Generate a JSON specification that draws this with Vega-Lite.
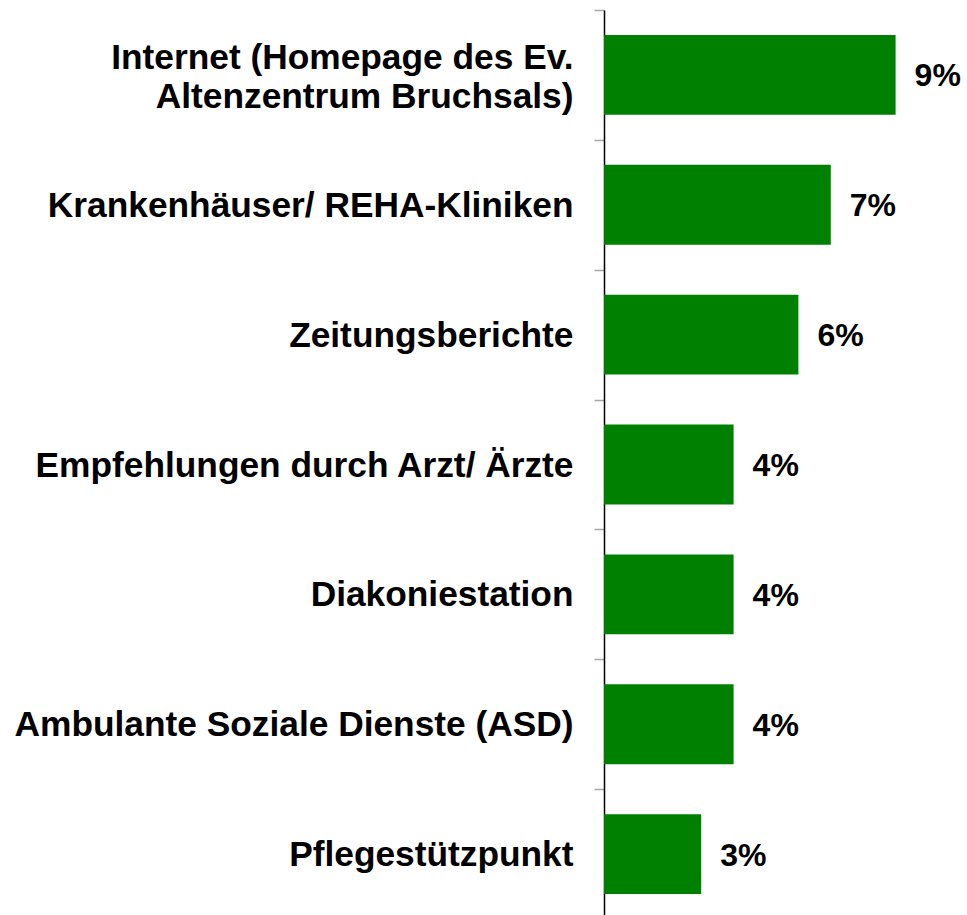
{
  "$schema": "https://vega.github.io/schema/vega-lite/v6.json",
  "autosize": {"type": "none"},
  "padding": {"left": 604, "top": 10, "right": 39, "bottom": 0},
  "width": 324,
  "height": 909,
  "background": "white",
  "config": {"view": {"stroke": null}, "font": "Liberation Sans"},
  "data": {
    "values": [
      {"source": "Internet (Homepage des Ev.\nAltenzentrum Bruchsals)", "share": 0.09},
      {"source": "Krankenhäuser/ REHA-Kliniken", "share": 0.07},
      {"source": "Zeitungsberichte", "share": 0.06},
      {"source": "Empfehlungen durch Arzt/ Ärzte", "share": 0.04},
      {"source": "Diakoniestation", "share": 0.04},
      {"source": "Ambulante Soziale Dienste (ASD)", "share": 0.04},
      {"source": "Pflegestützpunkt", "share": 0.03}
    ]
  },
  "encoding": {
    "y": {
      "field": "source",
      "type": "nominal",
      "sort": null,
      "title": null,
      "scale": {"paddingInner": 0.385, "paddingOuter": 0.1925},
      "axis": {
        "domainColor": "#000000",
        "domainWidth": 1.5,
        "tickColor": "#a6a6a6",
        "tickWidth": 1.5,
        "tickSize": 10,
        "tickOffset": -64.93,
        "labelOffset": {"condition": {"test": "indexof(datum.value, '\\n') >= 0", "value": 48}, "value": 65.5},
        "labelFont": "Liberation Sans",
        "labelFontWeight": "bold",
        "labelFontSize": 35.3,
        "labelColor": "#000000",
        "labelPadding": 21,
        "labelLimit": 800,
        "labelLineHeight": 39,
        "labelExpr": "split(datum.label, '\\n')"
      }
    },
    "x": {
      "field": "share",
      "type": "quantitative",
      "scale": {"domain": [0, 0.1], "nice": false},
      "axis": null
    }
  },
  "layer": [
    {"mark": {"type": "bar", "color": "#008000"}},
    {
      "mark": {
        "type": "text",
        "align": "left",
        "baseline": "middle",
        "dx": 19,
        "dy": 1.5,
        "font": "Liberation Sans",
        "fontWeight": "bold",
        "fontSize": 32,
        "color": "#000000"
      },
      "encoding": {"text": {"field": "share", "type": "quantitative", "format": ".0%"}}
    }
  ]
}
